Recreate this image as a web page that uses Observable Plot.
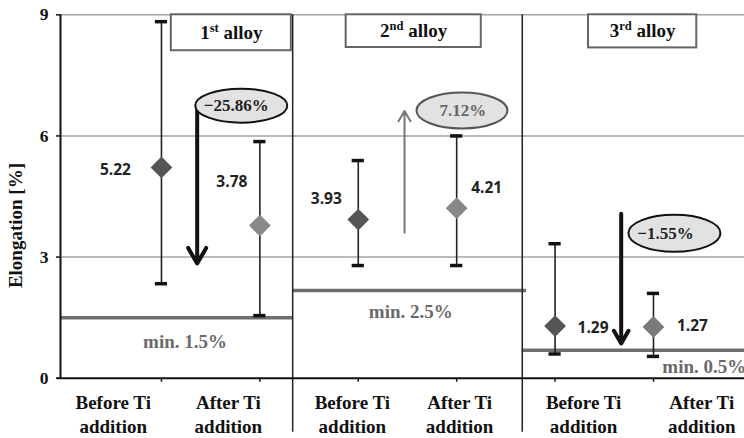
<!DOCTYPE html>
<html><head><meta charset="utf-8">
<script src="https://cdn.jsdelivr.net/npm/d3@7"></script>
<script src="https://cdn.jsdelivr.net/npm/@observablehq/plot@0.6"></script>
<style>body{margin:0;background:#fff} #chart svg{display:block}</style>
</head><body><div id="chart"></div>
<script>
// ---- data ----
const categories = ["Before Ti addition","After Ti addition","Before Ti addition","After Ti addition","Before Ti addition","After Ti addition"];
const alloys = ["1st alloy","2nd alloy","3rd alloy"];
const means = [5.22, 3.78, 3.93, 4.21, 1.29, 1.27];
const highs = [8.83, 5.86, 5.39, 6.00, 3.33, 2.10];
const lows  = [2.34, 1.55, 2.79, 2.79, 0.60, 0.54];
const minLevels = [1.5, 2.17, 0.69];           // level of drawn min. line
const minLabels = ["min. 1.5%", "min. 2.5%", "min. 0.5%"];
const changes = ["−25.86%", "7.12%", "−1.55%"];
const yTicks = [0, 3, 6, 9];

// ---- layout (data units) ----
const X_LEFT = -0.026, X_RIGHT = 6.925;
const xPos = categories.map((d, i) => i + 1);
const labelX = [0.51, 1.68, 2.94, 4.03, 5.29, 6.49];
const groupSpan = [[X_LEFT, 7/3], [7/3, 4.71], [14/3, X_RIGHT]];
const seps = [7/3, 14/3];
const minLabelPos = [{x: 1.24, y: 0.895}, {x: 3.534, y: 1.65}, {x: 6.09, y: 0.29}];
const boxes = [{x1: 1.10, x2: 2.32, y2: 8.11}, {x1: 2.877, x2: 4.25, y2: 8.19}, {x1: 5.34, x2: 6.44, y2: 8.18}];
const ellipses = [
  {cx: 1.811, cy: 6.75, rx: 46, ry: 17, stroke: "#111", text: "#222", tdx: -5},
  {cx: 4.054, cy: 6.63, rx: 45.5, ry: 18, stroke: "#555", text: "#666", tdx: 1},
  {cx: 6.213, cy: 3.59, rx: 46, ry: 18.5, stroke: "#111", text: "#222", tdx: -9}
];
const arrows = [
  {x: 1.363, y1: 6.68, y2: 2.84, stroke: "#111", sw: 4, head: 6.75},
  {x: 3.47, y1: 3.6, y2: 6.62, stroke: "#777", sw: 2, head: 9},
  {x: 5.672, y1: 4.07, y2: 0.86, stroke: "#111", sw: 4, head: 5.5}
];
const valueOffsets = [[-46, 3], [-28, -44], [-32, -20], [30, -20], [38, 2], [39, -1]];
const diamondFill = ["#555", "#888", "#555", "#888", "#555", "#7a7a7a"];

const points = categories.map((c, i) => ({x: xPos[i], mean: means[i], low: lows[i], high: highs[i], fill: diamondFill[i]}));
const caps = points.flatMap(p => [{x: p.x, y: p.low}, {x: p.x, y: p.high}]);

function ellipseSymbol(rx, ry) {
  const k = 0.5523;
  return {draw(ctx) {
    ctx.moveTo(rx, 0);
    ctx.bezierCurveTo(rx, ry * k, rx * k, ry, 0, ry);
    ctx.bezierCurveTo(-rx * k, ry, -rx, ry * k, -rx, 0);
    ctx.bezierCurveTo(-rx, -ry * k, -rx * k, -ry, 0, -ry);
    ctx.bezierCurveTo(rx * k, -ry, rx, -ry * k, rx, 0);
    ctx.closePath();
  }};
}

const serif = "'Liberation Serif','Times New Roman',serif";
const marks = [
  Plot.ruleY([3, 6, 9], {x1: X_LEFT, x2: X_RIGHT, stroke: "#a3a3a3", strokeWidth: 1.5}),
  Plot.ruleY(minLevels, {y: d => d, x1: (d, i) => groupSpan[i][0], x2: (d, i) => groupSpan[i][1], stroke: "#6e6e6e", strokeWidth: 3.5}),
  Plot.text(minLabels, {x: (d, i) => minLabelPos[i].x, y: (d, i) => minLabelPos[i].y, text: d => d, fill: "#6a6a6a", fontSize: 19, fontWeight: "bold", textAnchor: "start", filter: (d, i) => i === 2}),
  Plot.text(minLabels, {x: (d, i) => minLabelPos[i].x, y: (d, i) => minLabelPos[i].y, text: d => d, fill: "#6a6a6a", fontSize: 19, fontWeight: "bold", filter: (d, i) => i !== 2}),
  Plot.ruleX(seps, {x: d => d, y1: 9, y2: -1.34, stroke: "#222", strokeWidth: 1.5}),
  Plot.ruleX(points, {x: "x", y1: "low", y2: "high", stroke: "#222", strokeWidth: 1.6}),
  Plot.ruleY(caps, {y: "y", x1: d => d.x - 0.062, x2: d => d.x + 0.062, stroke: "#111", strokeWidth: 3.5}),
  Plot.dot(points.filter(p => p.fill === "#555"), {x: "x", y: "mean", symbol: "diamond2", r: 9.8, fill: "#555"}),
  Plot.dot(points.filter(p => p.fill === "#888"), {x: "x", y: "mean", symbol: "diamond2", r: 9.8, fill: "#888"}),
  Plot.dot(points.filter(p => p.fill === "#7a7a7a"), {x: "x", y: "mean", symbol: "diamond2", r: 9.8, fill: "#7a7a7a"}),
  ...points.map((p, i) => Plot.text([p], {x: "x", y: "mean", text: d => d.mean.toFixed(2), dx: valueOffsets[i][0], dy: valueOffsets[i][1], fontFamily: "'Open Sans',sans-serif", fontWeight: "bold", fontSize: 15.5, fill: "#222"})),
  ...arrows.map(a => Plot.arrow([a], {x1: "x", x2: "x", y1: "y1", y2: "y2", stroke: a.stroke, strokeWidth: a.sw, headLength: a.head})),
  ...ellipses.map((e, i) => Plot.dot([e], {x: "cx", y: "cy", symbol: ellipseSymbol(e.rx, e.ry), fill: "#e2e2e2", stroke: e.stroke, strokeWidth: 2})),
  ...ellipses.map((e, i) => Plot.text([e], {x: "cx", y: "cy", text: () => changes[i], dx: e.tdx, fill: e.text, fontSize: 17, fontWeight: "bold"})),
  Plot.rect(boxes, {x1: "x1", x2: "x2", y1: 9, y2: "y2", fill: "white", stroke: "#666", strokeWidth: 2}),
  Plot.text(boxes, {x: d => (d.x1 + d.x2) / 2, y: d => (9 + d.y2) / 2, text: (d, i) => alloys[i], fontSize: 19, fontWeight: "bold", fill: "#111"}),
  Plot.ruleX([X_LEFT], {y1: 0, y2: 9, stroke: "#111", strokeWidth: 2}),
  Plot.ruleY([0], {x1: -0.06, x2: X_RIGHT, stroke: "#111", strokeWidth: 2}),
  Plot.axisY({ticks: yTicks, tickSize: 4, tickPadding: 8, label: null, fontSize: 17.5, fontWeight: "bold", strokeWidth: 1.5}),
  Plot.axisX({ticks: xPos, tickSize: 4, tickFormat: () => "", label: null, strokeWidth: 1.5}),
  Plot.text(categories, {x: (d, i) => labelX[i], y: 0, text: d => d.replace(" addition", "\naddition"), dy: 35, lineHeight: 1.26, fontSize: 19, fontWeight: "bold", fill: "#111"}),
  Plot.text(["Elongation [%]"], {x: X_LEFT, y: 3.78, rotate: -90, dx: -45, fontSize: 19, fontWeight: "bold", fill: "#111"})
];

const chart = Plot.plot({
  width: 744, height: 438,
  marginLeft: 60, marginRight: 0, marginTop: 14.3, marginBottom: 60.3,
  x: {domain: [X_LEFT, X_RIGHT]},
  y: {domain: [0, 9]},
  style: {fontFamily: serif, fontSize: "17px", color: "#111", background: "#fff"},
  marks
});

d3.select(chart).selectAll("text").each(function() {
  const m = this.textContent.match(/^(\d)(st|nd|rd) alloy$/);
  if (!m) return;
  const s = d3.select(this);
  s.text(null);
  s.append("tspan").text(m[1]);
  s.append("tspan").attr("dy", -7).attr("font-size", "0.66em").text(m[2]);
  s.append("tspan").attr("dy", 7).text(" alloy");
});

document.getElementById("chart").appendChild(chart);
</script></body></html>
